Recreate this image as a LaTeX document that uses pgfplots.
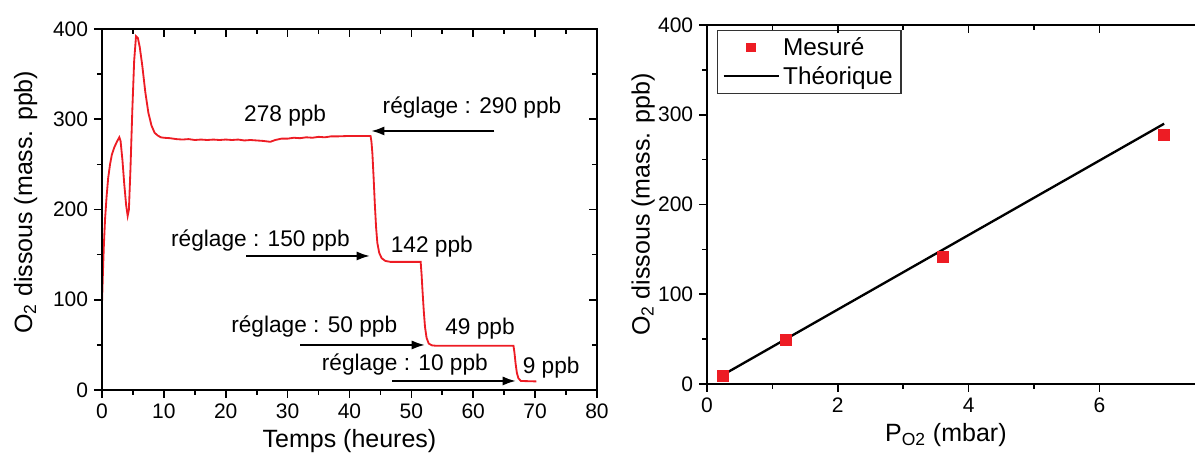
\documentclass[border=0pt]{standalone}
\usepackage{pgfplots}
\pgfplotsset{compat=1.18}
\usepackage{fontspec}
\setmainfont{Liberation Sans}
\usetikzlibrary{arrows.meta}
\definecolor{dred}{RGB}{237,28,36}

\begin{document}
\begin{tikzpicture}[x=1pt,y=1pt]
\useasboundingbox (0,0) rectangle (717,274.8);
\pgfplotsset{
  every axis/.append style={
    scale only axis,
    /pgf/number format/assume math mode=true,
    tick label style={font=\fontsize{12.6}{14}\selectfont},
    label style={font=\fontsize{15}{18}\selectfont},
    axis line style={line width=1.2pt},
    major tick length=4.8pt, minor tick length=3pt,
    major tick style={line width=1pt,black},
    minor tick style={line width=1pt,black},
  }
}
% ---------- left panel ----------
\begin{axis}[at={(61.2pt,40.8pt)}, anchor=south west,
  width=297pt, height=216.6pt,
  xmin=0, xmax=80, ymin=0, ymax=400,
  xtick={0,10,...,80}, ytick={0,100,...,400},
  minor x tick num=1, minor y tick num=1,
  xtick pos=left, ytick pos=left, tick align=outside,
  xlabel={Temps (heures)},
  xlabel style={at={(axis description cs:0.5,-0.141)}, anchor=center},
  ylabel={O\textsubscript{2} dissous (mass. ppb)},
  ylabel style={at={(axis description cs:-0.154,0.52)}, anchor=center},
]
\addplot[dred, line width=1.1pt] coordinates {
(0,96) (0.15,130) (0.3,160) (0.5,190) (0.75,215) (1.0,235) (1.3,250) (1.6,261)
(2.0,269) (2.4,275) (2.8,280) (3.0,276) (3.3,255) (3.6,228) (3.9,205) (4.15,193)
(4.35,200) (4.6,245) (4.9,310) (5.2,365) (5.5,392) (5.8,390) (6.1,380) (6.5,360)
(7.0,330) (7.5,307) (8.0,293) (8.5,285) (9.0,282) (9.5,280) (10,279.5) (11,279)
(12,278) (13,277.5) (14,278) (15,277) (16,277.5) (17,277) (18,277.5) (19,277)
(20,277.5) (21,277) (22,277.5) (23,276.5) (24,277) (25,276.5) (26,276) (27.2,275)
(28,277) (29,278.5) (30,278.5) (31,279.5) (32,279) (33,280) (34,279.5) (35,280.5)
(36,280) (37,281) (38,281) (40,281.5) (43.4,281.5)
(43.55,275) (43.7,262) (43.9,235) (44.1,205) (44.3,180) (44.5,163) (44.8,152)
(45.2,146) (45.8,143) (46.6,142) (51.5,142)
(51.65,128) (51.8,110) (52.0,88) (52.2,70) (52.45,58) (52.8,51.5) (53.3,49.5) (54,49)
(66.5,49) (66.65,42) (66.85,29) (67.05,19) (67.3,13) (67.7,10) (70.2,9.5)
};
\node[font=\fontsize{13.6}{16}\selectfont] at (axis cs:29.6,303.6) {278 ppb};
\node[font=\fontsize{13.6}{16}\selectfont] at (axis cs:59.8,312.5) {réglage : 290 ppb};
\node[font=\fontsize{13.6}{16}\selectfont] at (axis cs:25.6,166) {réglage : 150 ppb};
\node[font=\fontsize{13.6}{16}\selectfont] at (axis cs:53.3,158.8) {142 ppb};
\node[font=\fontsize{13.6}{16}\selectfont] at (axis cs:34.3,70.9) {réglage : 50 ppb};
\node[font=\fontsize{13.6}{16}\selectfont] at (axis cs:61.1,68.4) {49 ppb};
\node[font=\fontsize{13.6}{16}\selectfont] at (axis cs:48.95,28) {réglage : 10 ppb};
\node[font=\fontsize{13.6}{16}\selectfont] at (axis cs:72.6,24.5) {9 ppb};
\draw[line width=1.2pt,-{Latex[length=8pt,width=5.5pt]}] (axis cs:63.4,287) -- (axis cs:43.5,287);
\draw[line width=1.2pt,-{Latex[length=8pt,width=5.5pt]}] (axis cs:23.3,148.5) -- (axis cs:43.3,148.5);
\draw[line width=1.2pt,-{Latex[length=8pt,width=5.5pt]}] (axis cs:32.0,49.9) -- (axis cs:52.2,49.9);
\draw[line width=1.2pt,-{Latex[length=8pt,width=5.5pt]}] (axis cs:46.9,10) -- (axis cs:66.9,10);
\end{axis}
\begin{axis}[at={(61.2pt,40.8pt)}, anchor=south west,
  width=297pt, height=216.6pt,
  xmin=0, xmax=80, ymin=0, ymax=400,
  xtick={0,10,...,80}, ytick={0,100,...,400},
  minor x tick num=1, minor y tick num=1,
  xtick pos=right, ytick pos=right, tick align=inside,
  xticklabels={}, yticklabels={},
]
\end{axis}
% ---------- right panel (right spine falls outside the page) ----------
\begin{axis}[at={(424.2pt,44.4pt)}, anchor=south west,
  width=294.3pt, height=215.4pt,
  xmin=0, xmax=7.5, ymin=0, ymax=400,
  xtick={0,2,4,6}, ytick={0,100,...,400},
  minor x tick num=1, minor y tick num=1,
  xtick pos=left, ytick pos=left, tick align=outside,
  xlabel={P\textsubscript{O2} (mbar)},
  xlabel style={at={(rel axis cs:0.487,0)}, yshift=-30.6pt, anchor=center},
  ylabel={O\textsubscript{2} dissous (mass. ppb)},
  ylabel style={at={(axis description cs:-0.13,0.5)}, anchor=center},
  legend image code/.code={\draw[mark repeat=2,mark phase=2] plot coordinates {(0pt,0pt)(16.5pt,0pt)(33pt,0pt)};},
  legend style={at={(rel axis cs:0.02,0.986)}, anchor=north west,
    draw=black!80, line width=0.8pt, font=\fontsize{14.6}{16}\selectfont,
    row sep=1pt, inner xsep=3pt, inner ysep=2pt},
  legend cell align=left,
]
\addplot[only marks, mark=square*, mark size=3.3pt, color=dred,
  legend image post style={mark size=2.4pt}] coordinates {
(0.24,9) (1.2,49) (3.6,142) (6.99,278)
};
\addlegendentry{Mesuré}
\addplot[black, line width=1.4pt] coordinates {(0.24,10) (6.99,290)};
\addlegendentry{Théorique}
\end{axis}
\begin{axis}[at={(424.2pt,44.4pt)}, anchor=south west,
  width=294.3pt, height=215.4pt,
  xmin=0, xmax=7.5, ymin=0, ymax=400,
  xtick={0,2,4,6}, minor x tick num=1, ytick=\empty,
  xtick pos=right, tick align=inside, xticklabels={},
]
\end{axis}
\end{tikzpicture}
\end{document}
